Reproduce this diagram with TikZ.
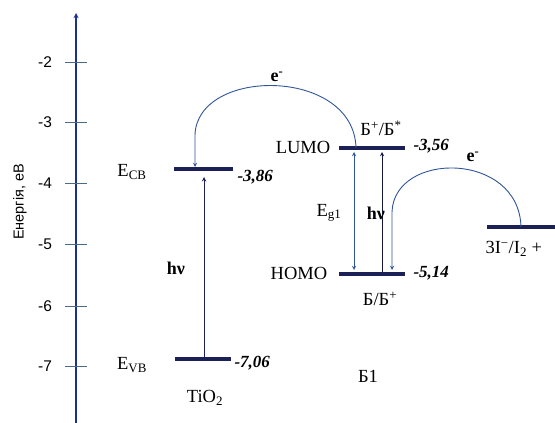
\documentclass[tikz,border=0pt]{standalone}
\usepackage{fontspec}
\setmainfont{Liberation Serif}
\setsansfont{Liberation Sans}
\definecolor{lvlblue}{HTML}{1B2157}
\definecolor{axblue}{HTML}{1F2F8F}
\definecolor{arrblue}{HTML}{2F5597}
\definecolor{tickgray}{HTML}{4A6A8A}
\tikzset{
  level/.style={draw=lvlblue, line width=3.6pt},
  arr/.style={draw=arrblue, line width=0.9pt},
  ticklbl/.style={font=\sffamily\fontsize{15.5}{17}\selectfont},
  val/.style={font=\bfseries\itshape\fontsize{17}{19}\selectfont, anchor=west},
  hvlbl/.style={font=\bfseries\fontsize{18}{20}\selectfont}
}
\begin{document}
\begin{tikzpicture}[x=1pt, y=-1pt, line join=round, >=stealth, font=\fontsize{18.5}{20}\selectfont]
	\useasboundingbox (0,0) rectangle (555,423);
	
	% Energy axis
	\draw[->, draw=axblue, line width=1.3pt] (76,423) -- (76,13);
	\foreach \y/\v [count=\i] in {62/-2,122/-3,183/-4,244/-5,306/-6,366/-7}{
		\draw[tickgray, line width=1pt] (65,\y) -- (87,\y);
		\node[ticklbl] (tick\i) at (45,\y) {\v};
	}
	\node[rotate=90, font=\sffamily\fontsize{14.5}{16}\selectfont] (ylab) at (20,202) {Енергія, еВ};
	
	% TiO2 levels
	\coordinate (cbL) at (174,169); \coordinate (cbR) at (233,169);
	\coordinate (vbL) at (175,359); \coordinate (vbR) at (231,359);
	\draw[level] (cbL) -- (cbR);
	\draw[level] (vbL) -- (vbR);
	\node (ecb) at (132,172) {E\textsubscript{CB}};
	\node (evb) at (132,365) {E\textsubscript{VB}};
	\node[val] (vcb) at (234,177) {-3,86};
	\node[val] (vvb) at (231,363) {-7,06};
	\node (tio) at (205,398) {TiO\textsubscript{2}};
	\coordinate (vbUp) at (204,357); \coordinate (cbUp) at (204,177);
	\draw[->, draw=lvlblue, line width=1pt] (vbUp) -- (cbUp);
	\node[hvlbl] (hv1) at (176,268) {hν};
	
	% Dye levels
	\coordinate (luL) at (339,148); \coordinate (luR) at (405,148);
	\coordinate (hoL) at (339,274); \coordinate (hoR) at (405,274);
	\draw[level] (luL) -- (luR);
	\draw[level] (hoL) -- (hoR);
	\node (lumo) at (303,147) {LUMO};
	\node (homo) at (299,273) {HOMO};
	\node[val] (vlu) at (410,146) {-3,56};
	\node[val] (vho) at (410,273) {-5,14};
	\node (dyeup) at (381,128) {Б\textsuperscript{+}/Б\textsuperscript{*}};
	\node (dyedn) at (380,299) {Б/Б\textsuperscript{+}};
	\node (dye) at (368,376) {Б1};
	\coordinate (egT) at (354,152); \coordinate (egB) at (354,270);
	\draw[<->, arr] (egT) -- (egB);
	\node (eg) at (329,213) {E\textsubscript{g1}};
	\coordinate (hvB) at (382,272); \coordinate (hvT) at (382,152);
	\draw[->, draw=lvlblue!70!black, line width=0.9pt] (hvB) -- (hvT);
	\node[hvlbl] (hv2) at (376,213) {hν};
	
	% Electron injection
	\coordinate (injS) at (356,148); \coordinate (injE) at (195,167);
	\draw[->, arr] (injS) .. controls (354,67) and (197,67) .. (195,135) -- (injE);
	\node[hvlbl] (e1) at (277,77) {e\textsuperscript{-}};
	
	% Redox couple
	\coordinate (rdL) at (487,227); \coordinate (rdR) at (556,227);
	\draw[level] (rdL) -- (rdR);
	\node[anchor=west] (redox) at (482,249) {3I\textsuperscript{\textminus}/I\textsubscript{2} +};
	\coordinate (regS) at (521,227); \coordinate (regE) at (392,270);
	\draw[->, arr] (regS) .. controls (519,151) and (394,151) .. (392,212) -- (regE);
	\node[hvlbl] (e2) at (473,157) {e\textsuperscript{-}};
\end{tikzpicture}
\end{document}
